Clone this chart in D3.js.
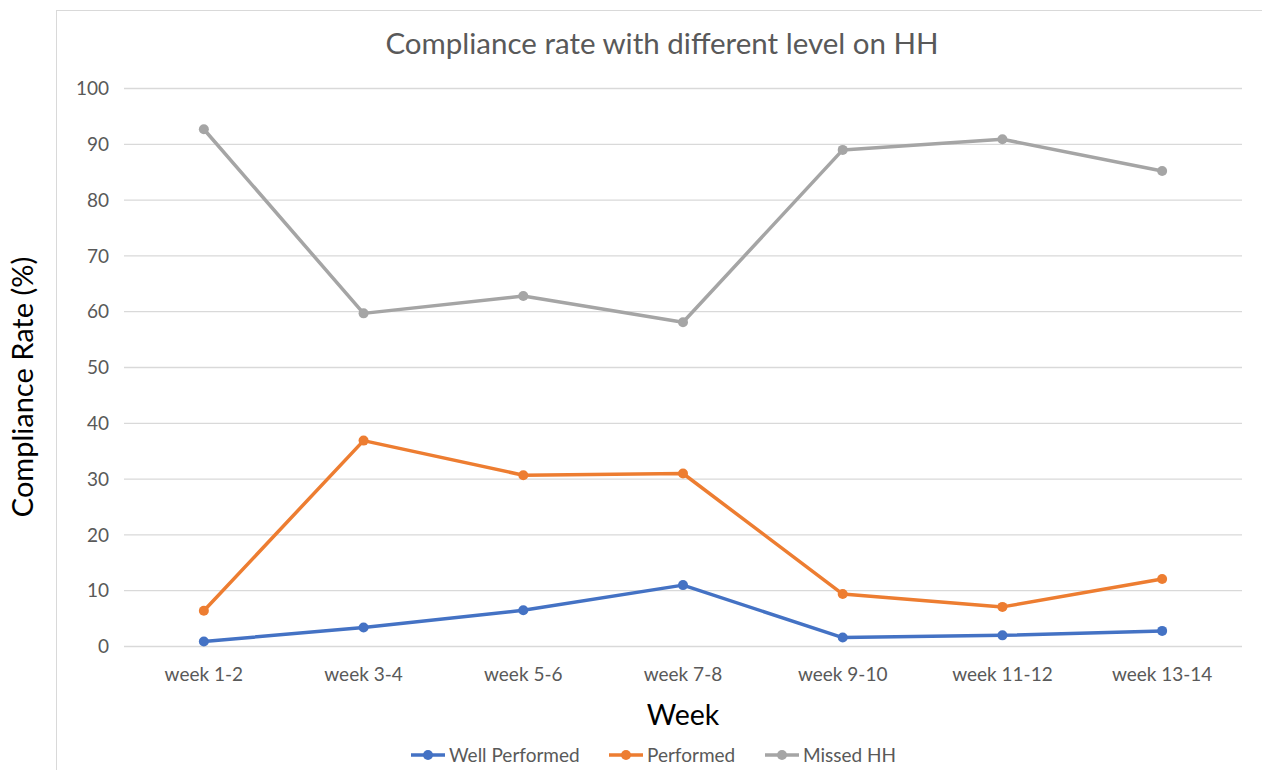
<!DOCTYPE html>
<html>
<head>
<meta charset="utf-8">
<script src="https://cdn.jsdelivr.net/npm/d3@7"></script>
<style>
  body { margin: 0; background: #fff; }
  text { font-family: Lato, "Open Sans", sans-serif; }
</style>
</head>
<body>
<svg class="chart"></svg>
<script>
// Data
var weeks = ["week 1-2", "week 3-4", "week 5-6", "week 7-8", "week 9-10", "week 11-12", "week 13-14"];
var wellPerformed = [0.9, 3.4, 6.5, 11.0, 1.6, 2.0, 2.8];
var performed = [6.4, 36.9, 30.7, 31.0, 9.4, 7.1, 12.1];
var missedHH = [92.7, 59.7, 62.8, 58.1, 89.0, 90.9, 85.2];
var yTicks = [0, 10, 20, 30, 40, 50, 60, 70, 80, 90, 100];

var seriesNames = ["Well Performed", "Performed", "Missed HH"];
var seriesColors = ["#4472C4", "#ED7D31", "#A5A5A5"];
var seriesValues = [wellPerformed, performed, missedHH];

var w = 1262,
    h = 770;

var svg = d3.select(".chart")
    .attr("width", w)
    .attr("height", h);

// chart frame
svg.append("rect")
    .attr("x", 56.5).attr("y", 10.5)
    .attr("width", 1220).attr("height", 800)
    .attr("fill", "none")
    .attr("stroke", "#d9d9d9")
    .attr("stroke-width", 1);

var margin = { top: 88.5, left: 124, right: 20 },
    plotW = 1118,
    plotH = 558;

var g = svg.append("g").attr("transform", "translate(" + margin.left + "," + margin.top + ")");

var x = d3.scaleBand().domain(weeks).range([0, plotW]);
var y = d3.scaleLinear().domain([0, 100]).range([plotH, 0]);

// gridlines
g.append("g")
    .selectAll("line")
    .data(yTicks)
    .enter().append("line")
    .attr("x1", 0).attr("x2", plotW)
    .attr("y1", function(d) { return y(d); })
    .attr("y2", function(d) { return y(d); })
    .attr("stroke", "#d9d9d9")
    .attr("stroke-width", 1.3);

// y tick labels
g.append("g")
    .selectAll("text")
    .data(yTicks)
    .enter().append("text")
    .attr("x", -15)
    .attr("y", function(d) { return y(d); })
    .attr("dy", "0.35em")
    .attr("text-anchor", "end")
    .attr("font-size", 19)
    .attr("fill", "#595959")
    .text(function(d) { return d; });

// x tick labels
g.append("g")
    .selectAll("text")
    .data(weeks)
    .enter().append("text")
    .attr("x", function(d) { return x(d) + x.bandwidth() / 2; })
    .attr("y", plotH + 34)
    .attr("text-anchor", "middle")
    .attr("font-size", 19)
    .attr("fill", "#595959")
    .text(function(d) { return d; });

var line = d3.line()
    .x(function(d, i) { return x(weeks[i]) + x.bandwidth() / 2; })
    .y(function(d) { return y(d); });

// draw gray first so blue ends on top, like the reference
[2, 1, 0].forEach(function(s) {
    g.append("path")
        .datum(seriesValues[s])
        .attr("fill", "none")
        .attr("stroke", seriesColors[s])
        .attr("stroke-width", 3.5)
        .attr("stroke-linejoin", "round")
        .attr("stroke-linecap", "round")
        .attr("d", line);

    g.append("g")
        .selectAll("circle")
        .data(seriesValues[s])
        .enter().append("circle")
        .attr("cx", function(d, i) { return x(weeks[i]) + x.bandwidth() / 2; })
        .attr("cy", function(d) { return y(d); })
        .attr("r", 5)
        .attr("fill", seriesColors[s]);
});

// titles
svg.append("text")
    .attr("x", 662).attr("y", 54)
    .attr("text-anchor", "middle")
    .attr("font-size", 29.5)
    .attr("fill", "#595959")
    .text("Compliance rate with different level on HH");

svg.append("text")
    .attr("transform", "translate(33,387) rotate(-90)")
    .attr("text-anchor", "middle")
    .attr("font-size", 29)
    .attr("fill", "#000")
    .text("Compliance Rate (%)");

svg.append("text")
    .attr("x", margin.left + plotW / 2).attr("y", 725)
    .attr("text-anchor", "middle")
    .attr("font-size", 28.5)
    .attr("fill", "#000")
    .text("Week");

// legend
var legendX = [411, 609, 765];
var legend = svg.append("g");
seriesNames.forEach(function(name, i) {
    var lg = legend.append("g").attr("transform", "translate(" + legendX[i] + ",755)");
    lg.append("line")
        .attr("x1", 0).attr("x2", 34)
        .attr("stroke", seriesColors[i])
        .attr("stroke-width", 3.5);
    lg.append("circle")
        .attr("cx", 17).attr("r", 5)
        .attr("fill", seriesColors[i]);
    lg.append("text")
        .attr("x", 38)
        .attr("dy", "0.35em")
        .attr("font-size", 19)
        .attr("fill", "#595959")
        .text(name);
});
</script>
</body>
</html>
